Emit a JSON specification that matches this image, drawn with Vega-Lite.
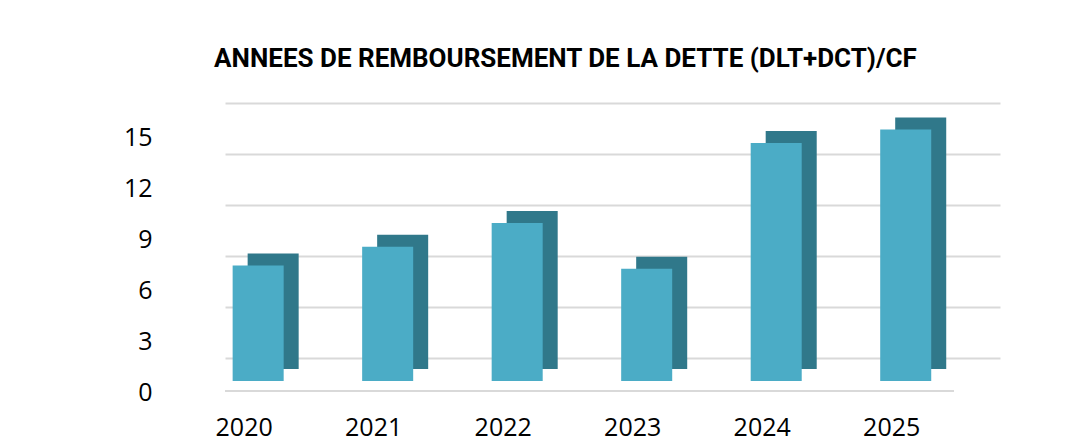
{
  "$schema": "https://vega.github.io/schema/vega-lite/v6.json",
  "autosize": {"type": "none"},
  "padding": {"left": 225, "top": 103, "right": 81, "bottom": 81},
  "width": 775,
  "height": 255,
  "background": "white",
  "title": {
    "text": "ANNEES DE REMBOURSEMENT DE LA DETTE (DLT+DCT)/CF",
    "font": "Roboto",
    "fontSize": 26,
    "fontWeight": "bold",
    "color": "#000000",
    "anchor": "middle",
    "frame": "group",
    "dx": -47,
    "offset": 31
  },
  "data": {
    "values": [
      {"annee": "2020", "valeur": 6.8},
      {"annee": "2021", "valeur": 7.9},
      {"annee": "2022", "valeur": 9.3},
      {"annee": "2023", "valeur": 6.6},
      {"annee": "2024", "valeur": 14.0},
      {"annee": "2025", "valeur": 14.8}
    ]
  },
  "encoding": {
    "x": {
      "field": "annee",
      "type": "nominal",
      "sort": null,
      "scale": {"paddingInner": 0.606, "paddingOuter": 0.295, "align": 0.1},
      "axis": {
        "title": null,
        "domain": false,
        "ticks": false,
        "grid": false,
        "labelAngle": 0,
        "labelFont": "Open Sans",
        "labelFontSize": 25,
        "labelColor": "#000000",
        "labelPadding": 57,
        "labelBaseline": "top",
        "labelOffset": -14
      }
    }
  },
  "layer": [
    {
      "mark": {"type": "rule", "color": "#d9d9d9", "strokeWidth": 2, "yOffset": 33, "xOffset": -46, "x2Offset": -43},
      "encoding": {"y": {"datum": 0, "type": "quantitative"}, "x": null}
    },
    {
      "mark": {"type": "bar", "color": "#30788a", "xOffset": 15, "x2Offset": 15, "yOffset": 11, "y2Offset": 11},
      "encoding": {
        "y": {
          "field": "valeur",
          "type": "quantitative",
          "scale": {"domain": [0, 15], "nice": false, "zero": true},
          "axis": {
            "title": null,
            "values": [0, 3, 6, 9, 12, 15],
            "domain": false,
            "ticks": false,
            "grid": true,
            "gridColor": "#d9d9d9",
            "gridWidth": 2,
            "labelFont": "Open Sans",
            "labelFontSize": 25,
            "labelColor": "#000000",
            "labelPadding": 73,
            "labelOffset": 34
          }
        }
      }
    },
    {
      "mark": {"type": "bar", "color": "#4bacc6", "yOffset": 23, "y2Offset": 23},
      "encoding": {
        "y": {"field": "valeur", "type": "quantitative"}
      }
    }
  ],
  "config": {
    "view": {"stroke": null}
  }
}
